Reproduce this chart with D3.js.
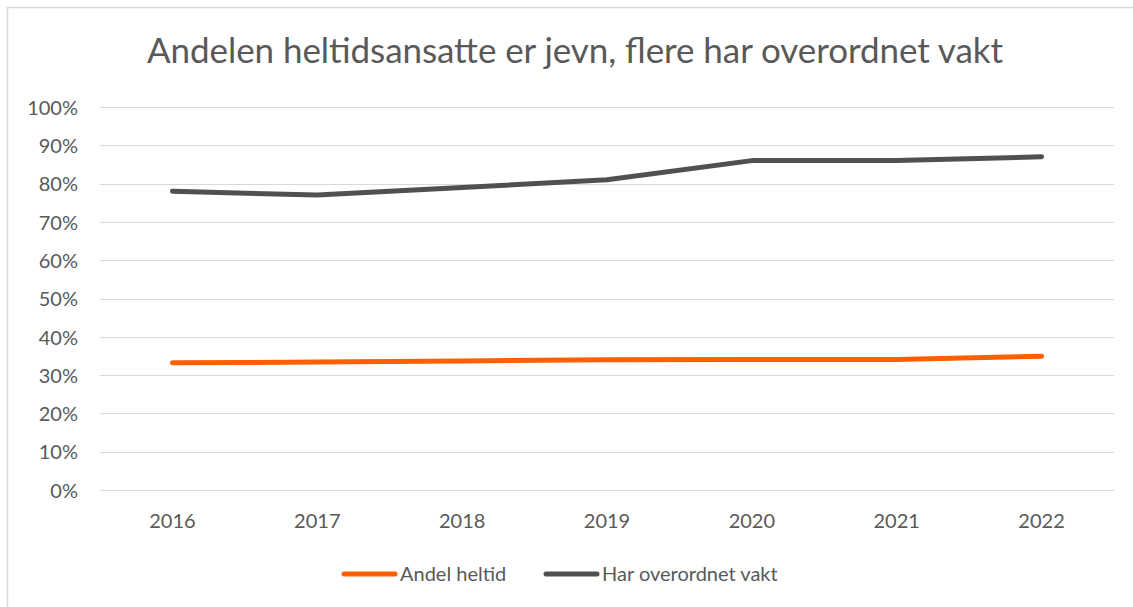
<!DOCTYPE html>
<html lang="no">
<head>
<meta charset="UTF-8">
<title>Andelen heltidsansatte</title>
<script src="https://d3js.org/d3.v7.min.js"></script>
<style>
  html, body { margin: 0; padding: 0; background: #fff; }
  svg { display: block; font-family: Lato, "Open Sans", sans-serif; }
</style>
</head>
<body>
<svg id="chart" width="1133" height="607"></svg>
<script>
// data
const years = ["2016", "2017", "2018", "2019", "2020", "2021", "2022"];
const andelHeltid = [0.332, 0.334, 0.337, 0.340, 0.341, 0.341, 0.349];
const overordnetVakt = [0.78, 0.77, 0.79, 0.81, 0.86, 0.86, 0.87];
const yTicks = [0, 0.1, 0.2, 0.3, 0.4, 0.5, 0.6, 0.7, 0.8, 0.9, 1.0];
const title = "Andelen heltidsansatte er jevn, flere har overordnet vakt";

const series = [
    { name: "Andel heltid", values: andelHeltid, color: "#ff5f00" },
    { name: "Har overordnet vakt", values: overordnetVakt, color: "#505050" }
];

const svg = d3.select("#chart");
const textColor = "#595959";
const font = "Lato, 'Open Sans', sans-serif";

// outer chart frame (runs off the right/bottom edge like the screenshot)
svg.append("rect")
    .attr("x", 7.5).attr("y", 7.5)
    .attr("width", 1140).attr("height", 620)
    .attr("fill", "none")
    .attr("stroke", "#d9d9d9")
    .attr("stroke-width", 1.5);

svg.append("text")
    .attr("x", 575).attr("y", 63)
    .attr("text-anchor", "middle")
    .attr("font-size", 35)
    .attr("fill", textColor)
    .attr("textLength", 856)
    .attr("lengthAdjust", "spacing")
    .text(title);

const x = d3.scaleBand()
    .domain(years)
    .range([100, 1114]);

const y = d3.scaleLinear()
    .domain([0, 1])
    .range([490, 107]);

// gridlines
svg.append("g")
    .selectAll("line")
    .data(yTicks)
    .join("line")
    .attr("x1", 100).attr("x2", 1114)
    .attr("y1", d => Math.round(y(d)) + 0.5)
    .attr("y2", d => Math.round(y(d)) + 0.5)
    .attr("stroke", "#d9d9d9")
    .attr("stroke-width", 1.2);

// y axis labels
const yAxis = svg.append("g")
    .attr("transform", "translate(78,0)")
    .call(d3.axisLeft(y).tickValues(yTicks).tickFormat(d3.format(".0%")).tickSize(0).tickPadding(0));
yAxis.select(".domain").remove();
yAxis.selectAll("text")
    .attr("font-family", font)
    .attr("font-size", 20)
    .attr("fill", textColor)
    .attr("dy", "0.36em");

// x axis labels
const xAxis = svg.append("g")
    .attr("transform", "translate(0,528)")
    .call(d3.axisBottom(x).tickSize(0).tickPadding(0));
xAxis.select(".domain").remove();
xAxis.selectAll("text")
    .attr("font-family", font)
    .attr("font-size", 20)
    .attr("fill", textColor)
    .attr("y", 0)
    .attr("dy", 0);

// lines
const line = d3.line()
    .x((d, i) => x(years[i]) + x.bandwidth() / 2)
    .y(d => y(d));

svg.append("g")
    .selectAll("path")
    .data(series)
    .join("path")
    .attr("d", d => line(d.values))
    .attr("fill", "none")
    .attr("stroke", d => d.color)
    .attr("stroke-width", 5)
    .attr("stroke-linecap", "round")
    .attr("stroke-linejoin", "round");

// legend
const legendPos = [344, 546];
const legend = svg.append("g")
    .selectAll("g")
    .data(series)
    .join("g")
    .attr("transform", (d, i) => `translate(${legendPos[i]},574)`);
legend.append("line")
    .attr("x1", 0).attr("x2", 51)
    .attr("stroke", d => d.color)
    .attr("stroke-width", 5)
    .attr("stroke-linecap", "round");
legend.append("text")
    .attr("x", 56).attr("dy", "0.36em")
    .attr("font-size", 20)
    .attr("fill", textColor)
    .text(d => d.name);
</script>
</body>
</html>
